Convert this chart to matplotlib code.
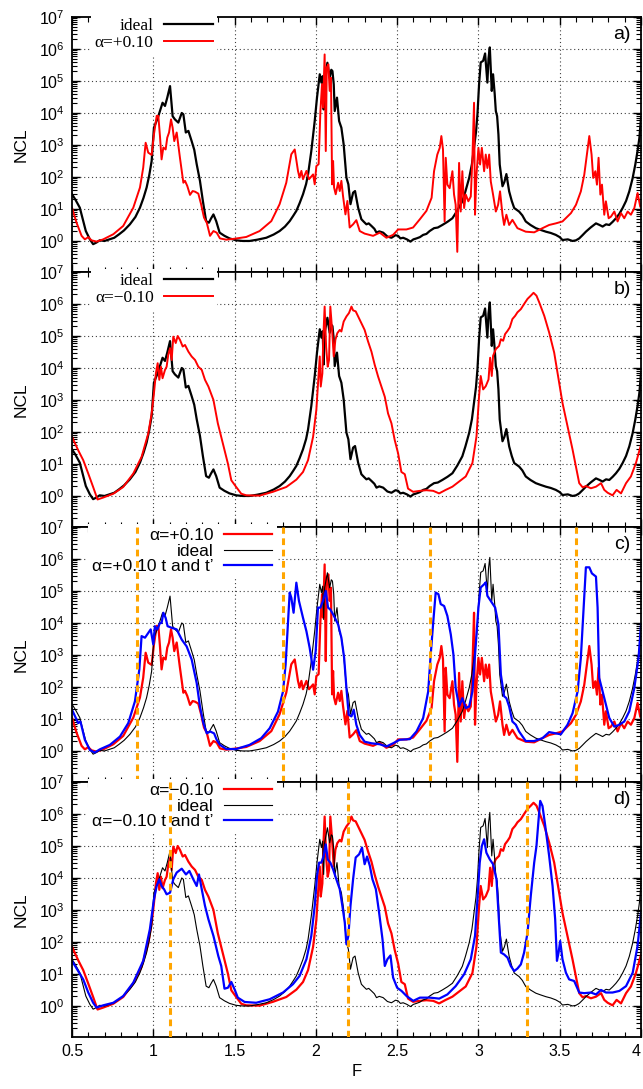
import numpy as np
import matplotlib
matplotlib.use("Agg")
import matplotlib.pyplot as plt
from matplotlib.ticker import FixedLocator, LogLocator, LogFormatterSciNotation, MultipleLocator, NullFormatter

plt.rcParams['font.family'] = ['Liberation Sans', 'DejaVu Sans']
plt.rcParams['mathtext.fontset'] = 'custom'
plt.rcParams['mathtext.rm'] = 'Liberation Sans'
plt.rcParams['mathtext.it'] = 'Liberation Sans:italic'
plt.rcParams['mathtext.bf'] = 'Liberation Sans:bold'

# ---------------- data (F, log10 NCL) ----------------
ideal_F = [0.50, 0.52, 0.548, 0.565, 0.585, 0.61, 0.63, 0.65, 0.67, 0.70, 0.73, 0.76, 0.79, 0.82, 0.856, 0.89,
           0.918, 0.94, 0.959, 0.975, 0.99, 1.004, 1.016, 1.028, 1.041, 1.057, 1.072, 1.086, 1.103, 1.119, 1.133,
           1.154, 1.175, 1.185, 1.2, 1.216, 1.236, 1.252, 1.267, 1.287, 1.305, 1.325, 1.342, 1.355, 1.37, 1.387,
           1.408, 1.438, 1.469, 1.51, 1.55, 1.592, 1.64, 1.695, 1.74, 1.777, 1.81, 1.839, 1.86, 1.88, 1.90, 1.921,
           1.94, 1.952, 1.972, 1.993, 2.007, 2.024, 2.034, 2.042, 2.048, 2.054, 2.071, 2.085, 2.095, 2.102, 2.11,
           2.116, 2.13, 2.143, 2.157, 2.171, 2.188, 2.2, 2.213, 2.229, 2.241, 2.26, 2.28, 2.295, 2.311, 2.325,
           2.342, 2.36, 2.373, 2.39, 2.414, 2.44, 2.465, 2.49, 2.506, 2.52, 2.537, 2.56, 2.582, 2.60, 2.619, 2.64,
           2.66, 2.68, 2.70, 2.727, 2.75, 2.778, 2.81, 2.84, 2.87, 2.901, 2.92, 2.943, 2.96, 2.973, 2.985, 2.994,
           3.004, 3.014, 3.029, 3.041, 3.055, 3.062, 3.07, 3.082, 3.09, 3.1, 3.107, 3.115, 3.123, 3.131, 3.148,
           3.16, 3.172, 3.189, 3.205, 3.22, 3.25, 3.27, 3.291, 3.32, 3.353, 3.38, 3.415, 3.445, 3.476, 3.50, 3.517,
           3.55, 3.579, 3.60, 3.62, 3.64, 3.661, 3.69, 3.723, 3.745, 3.764, 3.785, 3.805, 3.826, 3.846, 3.867,
           3.887, 3.908, 3.928, 3.948, 3.965, 3.98, 3.99, 4.0]
ideal_logNCL = [1.46, 1.30, 1.04, 0.70, 0.31, 0.05, -0.10, -0.05, 0.02, 0.00, 0.05, 0.10, 0.21, 0.33, 0.52, 0.75,
                1.04, 1.35, 1.67, 2.05, 2.50, 3.54, 3.70, 3.85, 4.06, 4.32, 4.22, 4.48, 4.84, 3.90, 3.80,
                3.70, 4.00, 3.96, 3.39, 3.44, 3.12, 2.85, 2.40, 1.88, 1.25, 0.62, 0.57, 0.70, 0.83, 0.62,
                0.26, 0.16, 0.08, 0.02, 0.00, 0.00, 0.04, 0.10, 0.20, 0.31, 0.45, 0.62, 0.78, 0.94, 1.18, 1.46,
                1.78, 2.08, 2.81, 3.75, 4.48, 5.21, 4.95, 5.15, 4.11, 5.10, 5.57, 5.10, 5.35, 5.31, 4.90,
                4.06, 4.48, 3.75, 3.54, 3.02, 1.98, 1.77, 1.15, 1.51, 1.56, 1.04, 0.68, 0.60, 0.52, 0.55,
                0.47, 0.38, 0.26, 0.30, 0.26, 0.14, 0.10, 0.18, 0.16, 0.08, 0.10, 0.05, -0.02, 0.05, 0.08, 0.12,
                0.19, 0.22, 0.31, 0.40, 0.42, 0.50, 0.60, 0.71, 0.95, 1.24, 1.55, 1.97, 2.40, 2.91, 3.40, 3.96,
                4.90, 5.58, 5.63, 5.86, 4.95, 5.70, 6.05, 4.69, 5.21, 4.60, 4.06, 3.90, 3.33, 2.39, 1.71,
                1.85, 2.09, 1.55, 1.25, 1.03, 0.92, 0.80, 0.61, 0.50, 0.40, 0.35, 0.29, 0.25, 0.19, 0.12, 0.03,
                0.05, 0.00, 0.02, 0.08, 0.18, 0.29, 0.42, 0.55, 0.50, 0.45, 0.52, 0.50, 0.60, 0.71, 0.85,
                1.03, 1.25, 1.55, 1.95, 2.39, 2.85, 3.22, 3.85]

red_plus_F = [0.50, 0.528, 0.559, 0.579, 0.60, 0.62, 0.651, 0.692, 0.754, 0.815, 0.877, 0.918, 0.938, 0.953, 0.969,
              0.99, 1.004, 1.021, 1.031, 1.041, 1.051, 1.062, 1.076, 1.086, 1.097, 1.109, 1.119, 1.129, 1.144,
              1.164, 1.185, 1.195, 1.209, 1.226, 1.242, 1.257, 1.277, 1.294, 1.312, 1.329, 1.349, 1.37, 1.39,
              1.41, 1.449, 1.50, 1.572, 1.654, 1.726, 1.777, 1.818, 1.849, 1.87, 1.89, 1.90, 1.911, 1.921, 1.942,
              1.958, 1.983, 1.993, 2.003, 2.017, 2.028, 2.038, 2.044, 2.054, 2.061, 2.067, 2.077, 2.085, 2.093,
              2.10, 2.106, 2.112, 2.122, 2.137, 2.147, 2.157, 2.167, 2.182, 2.194, 2.208, 2.229, 2.249, 2.27,
              2.30, 2.352, 2.393, 2.434, 2.475, 2.506, 2.557, 2.598, 2.64, 2.68, 2.712, 2.727, 2.747, 2.762,
              2.772, 2.782, 2.792, 2.799, 2.809, 2.823, 2.84, 2.85, 2.86, 2.87, 2.881, 2.891, 2.901, 2.912,
              2.922, 2.938, 2.953, 2.963, 2.973, 2.979, 2.988, 3.0, 3.01, 3.021, 3.035, 3.045, 3.055, 3.066,
              3.076, 3.09, 3.107, 3.121, 3.133, 3.148, 3.158, 3.172, 3.189, 3.209, 3.24, 3.291, 3.343, 3.394,
              3.435, 3.476, 3.517, 3.569, 3.60, 3.63, 3.651, 3.667, 3.682, 3.696, 3.706, 3.719, 3.729, 3.739,
              3.75, 3.76, 3.774, 3.784, 3.801, 3.815, 3.836, 3.856, 3.877, 3.897, 3.918, 3.938, 3.959, 3.979,
              3.995]
red_plus_logNCL = [1.04, 0.57, 0.16, 0.05, 0.12, 0.02, -0.02, 0.05, 0.21, 0.47, 1.04, 1.67, 2.29, 3.07, 2.76,
                   2.69, 3.33, 3.91, 3.91, 3.28, 2.55, 2.92, 2.86, 3.23, 3.39, 3.80, 3.54, 3.12, 3.39,
                   2.60, 1.82, 1.88, 1.72, 1.44, 1.56, 1.54, 1.48, 1.15, 0.73, 0.57, 0.16, 0.31, 0.26,
                   0.08, 0.04, 0.07, 0.125, 0.31, 0.62, 1.15, 1.82, 2.71, 2.86, 2.19, 1.98, 2.19, 1.93, 2.19,
                   1.93, 2.08, 1.77, 2.34, 2.40, 4.06, 4.90, 4.17, 5.83, 2.81, 5.42, 5.52, 4.69, 5.10,
                   1.77, 2.50, 1.67, 1.46, 1.82, 1.56, 1.88, 1.41, 0.83, 1.25, 0.42, 0.52, 0.65, 0.31,
                   0.23, 0.16, 0.26, 0.10, 0.19, 0.36, 0.36, 0.42, 0.68, 0.94, 1.35, 2.18, 2.70, 2.91,
                   3.28, 2.86, 0.61, 2.60, 1.76, 1.65, 2.18, 1.45, 1.13, -0.34, 2.44, 0.92, 2.18, 1.03,
                   1.45, 1.24, 1.39, 2.60, 4.32, 0.82, 2.07, 2.91, 2.39, 2.91, 2.18, 2.70, 2.28, 2.70,
                   1.86, 1.45, 0.92, 1.13, 1.55, 0.82, 0.50, 0.82, 0.50, 0.66, 0.40, 0.29, 0.27, 0.40,
                   0.50, 0.55, 0.61, 0.87, 1.13, 1.55, 2.07, 2.70, 3.28, 2.70, 1.97, 2.18, 1.76, 2.60,
                   1.45, 1.76, 0.82, 1.24, 0.71, 0.76, 0.92, 0.61, 0.87, 0.71, 0.92, 0.82, 1.03, 1.50,
                   1.08]

red_minus_F = [0.50, 0.538, 0.569, 0.60, 0.63, 0.657, 0.692, 0.754, 0.815, 0.877, 0.928, 0.969, 0.99, 1.004,
               1.016, 1.027, 1.037, 1.047, 1.057, 1.072, 1.082, 1.092, 1.103, 1.113, 1.123, 1.138, 1.15, 1.164,
               1.181, 1.195, 1.216, 1.236, 1.257, 1.277, 1.298, 1.318, 1.339, 1.37, 1.397, 1.428, 1.459, 1.48,
               1.51, 1.541, 1.572, 1.654, 1.736, 1.818, 1.88, 1.921, 1.952, 1.983, 2.003, 2.015, 2.024, 2.03,
               2.04, 2.046, 2.054, 2.063, 2.073, 2.081, 2.089, 2.10, 2.11, 2.12, 2.132, 2.147, 2.157, 2.171,
               2.188, 2.204, 2.219, 2.229, 2.245, 2.26, 2.28, 2.30, 2.321, 2.342, 2.362, 2.383, 2.403, 2.424,
               2.444, 2.465, 2.485, 2.506, 2.526, 2.547, 2.567, 2.598, 2.64, 2.68, 2.722, 2.758, 2.799, 2.84,
               2.881, 2.922, 2.963, 2.988, 3.004, 3.014, 3.029, 3.045, 3.062, 3.072, 3.082, 3.09, 3.107, 3.127,
               3.138, 3.152, 3.164, 3.179, 3.193, 3.209, 3.226, 3.24, 3.261, 3.281, 3.302, 3.322, 3.339, 3.357,
               3.374, 3.405, 3.435, 3.466, 3.493, 3.517, 3.548, 3.579, 3.604, 3.62, 3.641, 3.661, 3.692, 3.723,
               3.754, 3.774, 3.795, 3.825, 3.85, 3.877, 3.908, 3.938, 3.969, 4.0]
red_minus_logNCL = [1.85, 1.43, 1.12, 0.70, 0.28, -0.11, -0.05, 0.07, 0.28, 0.70, 1.22, 1.95, 2.58, 3.21,
                    3.83, 4.15, 3.63, 4.04, 3.68, 3.94, 4.04, 4.41, 4.62, 4.25, 4.98, 4.78, 5.00, 4.88,
                    4.67, 4.72, 4.51, 4.36, 4.25, 4.04, 3.94, 3.63, 3.42, 3.00, 2.27, 1.64, 1.01, 0.49,
                    0.28, 0.07, 0.02, 0.01, 0.13, 0.28, 0.51, 0.75, 1.12, 1.85, 2.69, 3.63, 4.36, 3.42,
                    3.83, 4.98, 5.92, 4.67, 4.04, 4.25, 5.92, 5.19, 4.36, 4.88, 5.09, 5.19, 5.14, 5.45,
                    5.61, 5.72, 5.92, 5.80, 5.77, 5.61, 5.40, 5.19, 4.83, 4.51, 4.10, 3.73, 3.42, 3.10,
                    2.58, 2.27, 1.75, 1.33, 0.75, 0.68, 0.23, 0.13, 0.16, 0.18, 0.16, 0.08, 0.19, 0.29,
                    0.45, 0.61, 1.03, 1.86, 3.12, 3.75, 3.33, 3.43, 3.64, 4.32, 3.75, 4.38, 4.59, 4.69,
                    4.90, 4.85, 5.06, 5.16, 5.27, 5.53, 5.63, 5.74, 5.84, 6.00, 6.16, 6.26, 6.35, 6.26,
                    6.05, 5.63, 5.11, 4.48, 3.64, 2.91, 2.18, 1.45, 0.82, 0.40, 0.27, 0.31, 0.24, 0.29,
                    0.40, 0.19, 0.10, 0.02, 0.19, 0.08, 0.40, 0.61, 1.03, 1.60]

blue_plus_F = [0.50, 0.538, 0.552, 0.579, 0.61, 0.64, 0.671, 0.733, 0.795, 0.846, 0.887, 0.914, 0.928, 0.949,
               0.969, 0.984, 1.0, 1.01, 1.025, 1.041, 1.051, 1.062, 1.076, 1.088, 1.113, 1.144, 1.175, 1.205,
               1.236, 1.267, 1.287, 1.308, 1.329, 1.349, 1.374, 1.39, 1.41, 1.449, 1.51, 1.592, 1.664, 1.716,
               1.767, 1.798, 1.814, 1.829, 1.839, 1.849, 1.863, 1.88, 1.896, 1.921, 1.942, 1.962, 1.983, 1.999,
               2.013, 2.028, 2.044, 2.061, 2.075, 2.089, 2.106, 2.122, 2.137, 2.157, 2.174, 2.188, 2.202, 2.219,
               2.233, 2.249, 2.27, 2.30, 2.342, 2.393, 2.434, 2.475, 2.516, 2.578, 2.619, 2.66, 2.691, 2.705,
               2.721, 2.737, 2.754, 2.768, 2.789, 2.809, 2.83, 2.846, 2.86, 2.881, 2.901, 2.922, 2.943, 2.963,
               2.984, 3.0, 3.014, 3.035, 3.045, 3.055, 3.076, 3.103, 3.123, 3.138, 3.158, 3.172, 3.189, 3.209,
               3.23, 3.25, 3.291, 3.343, 3.394, 3.435, 3.476, 3.507, 3.548, 3.579, 3.61, 3.63, 3.647, 3.661,
               3.682, 3.698, 3.723, 3.733, 3.743, 3.764, 3.784, 3.805, 3.836, 3.867, 3.897, 3.928, 3.959, 3.985,
               4.0]
blue_plus_logNCL = [1.29, 0.87, 0.92, 0.35, 0.03, -0.05, 0.05, 0.19, 0.45, 0.87, 1.55, 2.54, 3.59, 3.54,
                    3.69, 3.80, 3.33, 3.90, 3.80, 4.00, 4.00, 4.32, 4.16, 3.90, 3.85, 3.80, 3.48, 3.27,
                    2.86, 2.12, 1.39, 0.87, 0.55, 0.61, 0.55, 0.35, 0.19, 0.06, 0.06, 0.19, 0.40, 0.71,
                    1.23, 1.86, 2.70, 4.06, 4.95, 4.79, 4.32, 5.26, 4.69, 4.16, 3.74, 3.22, 2.54, 3.12,
                    4.48, 4.48, 4.69, 5.00, 4.48, 4.42, 4.27, 4.11, 3.95, 3.54, 2.91, 1.97, 1.13, 1.08,
                    1.29, 0.82, 0.50, 0.29, 0.24, 0.21, 0.14, 0.24, 0.35, 0.37, 0.61, 1.03, 1.86, 2.91,
                    3.96, 4.95, 4.90, 4.59, 4.53, 4.22, 3.64, 3.02, 1.97, 1.39, 1.65, 1.34, 1.39, 1.86,
                    3.33, 4.48, 5.11, 5.21, 5.27, 4.85, 4.69, 4.48, 3.96, 2.39, 1.71, 1.65, 1.39, 0.92,
                    0.82, 0.61, 0.31, 0.31, 0.40, 0.59, 0.55, 0.52, 0.82, 1.18, 1.86, 2.91, 4.48, 5.74,
                    5.74, 5.55, 5.45, 4.48, 2.28, 1.86, 1.45, 1.03, 0.76, 0.82, 0.92, 1.24, 1.97, 2.91,
                    3.96]

blue_minus_F = [0.50, 0.538, 0.569, 0.60, 0.63, 0.651, 0.692, 0.754, 0.815, 0.877, 0.938, 0.979, 1.004, 1.021,
                1.037, 1.051, 1.066, 1.082, 1.103, 1.123, 1.144, 1.175, 1.201, 1.222, 1.246, 1.267, 1.281, 1.298,
                1.318, 1.339, 1.37, 1.40, 1.418, 1.438, 1.459, 1.48, 1.50, 1.52, 1.562, 1.633, 1.716, 1.798,
                1.859, 1.90, 1.942, 1.972, 1.993, 2.007, 2.02, 2.034, 2.048, 2.061, 2.073, 2.089, 2.106, 2.126,
                2.147, 2.163, 2.178, 2.188, 2.20, 2.213, 2.229, 2.245, 2.266, 2.284, 2.30, 2.315, 2.332, 2.348,
                2.369, 2.389, 2.41, 2.424, 2.44, 2.459, 2.475, 2.50, 2.527, 2.558, 2.599, 2.64, 2.701, 2.759,
                2.809, 2.86, 2.912, 2.953, 2.979, 2.994, 3.008, 3.021, 3.035, 3.049, 3.07, 3.09, 3.111, 3.123,
                3.138, 3.158, 3.179, 3.199, 3.22, 3.24, 3.261, 3.281, 3.302, 3.322, 3.343, 3.357, 3.37, 3.38,
                3.394, 3.411, 3.435, 3.456, 3.472, 3.483, 3.493, 3.503, 3.517, 3.538, 3.558, 3.589, 3.62, 3.651,
                3.692, 3.723, 3.754, 3.784, 3.825, 3.867, 3.908, 3.949, 3.979, 4.0]
blue_minus_logNCL = [1.41, 1.09, 0.83, 0.42, 0.10, -0.05, 0.02, 0.10, 0.31, 0.73, 1.41, 2.40, 3.33, 3.75,
                     3.96, 3.75, 3.65, 3.49, 3.54, 3.96, 4.17, 4.29, 4.11, 4.22, 3.96, 3.75, 4.11, 3.65,
                     3.13, 2.71, 2.19, 1.56, 1.25, 0.54, 0.57, 0.75, 0.52, 0.26, 0.125, 0.10, 0.21, 0.42,
                     0.68, 0.94, 1.46, 2.19, 3.13, 4.06, 4.48, 4.48, 4.69, 5.05, 4.58, 4.48, 4.27, 3.96,
                     3.65, 3.13, 2.60, 1.93, 2.19, 3.13, 3.96, 4.64, 4.74, 4.95, 4.43, 4.67, 4.38, 3.96,
                     3.65, 2.92, 2.08, 1.25, 1.46, 1.58, 0.89, 0.57, 0.47, 0.31, 0.16, 0.26, 0.26, 0.23,
                     0.36, 0.62, 0.99, 1.46, 2.19, 3.33, 4.48, 5.00, 5.21, 4.79, 4.58, 4.43, 3.96, 2.92,
                     1.67, 1.61, 1.51, 1.25, 1.09, 1.17, 1.30, 1.67, 2.29, 3.44, 4.48, 5.00, 5.83, 6.41,
                     6.25, 5.63, 4.69, 3.75, 2.71, 1.41, 1.67, 2.03, 1.46, 1.04, 0.83, 0.78, 0.42, 0.40,
                     0.42, 0.36, 0.50, 0.42, 0.42, 0.47, 0.62, 1.04, 1.88, 2.92]

vlines_c = [0.9, 1.8, 2.7, 3.6]
vlines_d = [1.1, 2.2, 3.3]

panel_labels = ['a)', 'b)', 'c)', 'd)']
x_ticks = [0.5, 1, 1.5, 2, 2.5, 3, 3.5, 4]
x_ticklabels = ['0.5', '1', '1.5', '2', '2.5', '3', '3.5', '4']
y_ticks = [1e0, 1e1, 1e2, 1e3, 1e4, 1e5, 1e6, 1e7]

# ---------------- figure ----------------
W, H = 643, 1089
fig = plt.figure(figsize=(W / 100, H / 100), dpi=100)

left_px, right_px = 72, 641
tops = [17, 272, 527, 782]
ph = 255
axes = []
for t in tops:
    ax = fig.add_axes([left_px / W, 1 - (t + ph) / H, (right_px - left_px) / W, ph / H])
    axes.append(ax)

RED = '#ff0000'
BLUE = '#0000ff'
ORANGE = '#ffa500'

def p(v):
    return 10 ** np.asarray(v)

def style(ax, label, bottom):
    ax.set_xlim(0.5, 4.0)
    ax.set_yscale('log')
    ax.set_ylim(10 ** -0.97, 1e7)
    ax.yaxis.set_major_locator(FixedLocator(y_ticks))
    ax.yaxis.set_major_formatter(LogFormatterSciNotation())
    ax.yaxis.set_minor_locator(LogLocator(base=10, subs=np.arange(2, 10), numticks=30))
    ax.yaxis.set_minor_formatter(NullFormatter())
    ax.set_xticks(x_ticks)
    ax.xaxis.set_minor_locator(MultipleLocator(0.1))
    if bottom:
        ax.set_xticklabels(x_ticklabels)
        ax.get_xticklabels()[-1].set_ha('right')
        ax.set_xlabel('F', fontsize=12, labelpad=4)
    else:
        ax.set_xticklabels([])
    ax.tick_params(which='both', direction='in', top=True, right=True, labelsize=11.5)
    ax.tick_params(which='major', length=6, width=1.0, pad=5)
    ax.tick_params(which='minor', length=3.5, width=0.8)
    for s in ax.spines.values():
        s.set_linewidth(1.3)
    for g in [1, 1.5, 2, 2.5, 3, 3.5]:
        ax.axvline(g, color='0.25', lw=0.8, ls=(0, (1, 2.5)), zorder=0.5)
    for g in y_ticks[:-1]:
        ax.axhline(g, color='0.25', lw=0.8, ls=(0, (1, 2.5)), zorder=0.5)
    ax.set_ylabel('NCL', fontsize=12.5, labelpad=8)
    ax.text(0.982, 0.93, label, transform=ax.transAxes, ha='right', va='center', fontsize=14)

def legend(ax, serif, anchor_x):
    fam = ['Liberation Serif', 'DejaVu Serif'] if serif else ['Liberation Sans', 'DejaVu Sans']
    leg = ax.legend(loc='upper right', bbox_to_anchor=(anchor_x, 1.012), markerfirst=False,
                    frameon=True, fancybox=False, framealpha=1, edgecolor='none', facecolor='white',
                    handlelength=2.8, handletextpad=0.6, labelspacing=0.0, borderpad=0.25,
                    borderaxespad=0.0, prop={'family': fam, 'size': 12.5})
    leg.set_zorder(5)
    return leg

# a)
ax = axes[0]
ax.plot(ideal_F, p(ideal_logNCL), color='black', lw=1.6, label='ideal')
ax.plot(red_plus_F, p(red_plus_logNCL), color=RED, lw=1.4, label='α=+0.10')
style(ax, 'a)', False)
legend(ax, True, 0.255)

# b)
ax = axes[1]
ax.plot(ideal_F, p(ideal_logNCL), color='black', lw=1.6, label='ideal')
ax.plot(red_minus_F, p(red_minus_logNCL), color=RED, lw=1.4, label='α=−0.10')
style(ax, 'b)', False)
legend(ax, True, 0.255)

# c)
ax = axes[2]
ax.plot(red_plus_F, p(red_plus_logNCL), color=RED, lw=1.6, label='α=+0.10')
ax.plot(ideal_F, p(ideal_logNCL), color='black', lw=0.8, label='ideal')
ax.plot(blue_plus_F, p(blue_plus_logNCL), color=BLUE, lw=1.6, label='α=+0.10 t and t’')
for v in vlines_c:
    ax.axvline(v, color=ORANGE, lw=2.2, ls=(0, (2.2, 1.5)), zorder=6)
style(ax, 'c)', False)
legend(ax, False, 0.36)

# d)
ax = axes[3]
ax.plot(red_minus_F, p(red_minus_logNCL), color=RED, lw=1.6, label='α=−0.10')
ax.plot(ideal_F, p(ideal_logNCL), color='black', lw=0.8, label='ideal')
ax.plot(blue_minus_F, p(blue_minus_logNCL), color=BLUE, lw=1.6, label='α=−0.10 t and t’')
for v in vlines_d:
    ax.axvline(v, color=ORANGE, lw=2.2, ls=(0, (2.2, 1.5)), zorder=6)
style(ax, 'd)', True)
legend(ax, False, 0.36)

fig.savefig('out.png', dpi=100)
